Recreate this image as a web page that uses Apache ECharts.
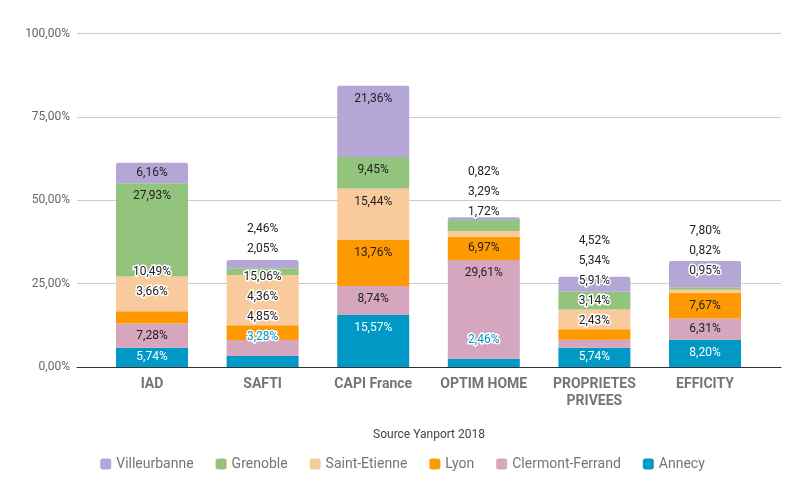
<!DOCTYPE html>
<html>
<head>
<meta charset="utf-8">
<script src="https://cdn.jsdelivr.net/npm/echarts@6/dist/echarts.min.js"></script>
<style>
html,body{margin:0;padding:0;background:#fff;}
#main{width:805px;height:498px;}
</style>
</head>
<body>
<div id="main"></div>
<script>
// ---- data ----
const categories = ['IAD', 'SAFTI', 'CAPI France', 'OPTIM HOME', 'PROPRIETES\nPRIVEES', 'EFFICITY'];
const annecy       = [5.74, 3.28, 15.57, 2.46, 5.74, 8.20];
const clermont     = [7.28, 4.85, 8.74, 29.61, 2.43, 6.31];
const lyon         = [3.66, 4.36, 13.76, 6.97, 3.14, 7.67];
const saintEtienne = [10.49, 15.06, 15.44, 1.72, 5.91, 0.95];
const grenoble     = [27.93, 2.05, 9.45, 3.29, 5.34, 0.82];
const villeurbanne = [6.16, 2.46, 21.36, 0.82, 4.52, 7.80];
const yTicks = [0, 25, 50, 75, 100];
const sourceText = 'Source Yanport 2018';

// stacking order bottom -> top
const seriesList = [
  {name: 'Annecy', values: annecy, color: '#0099c6'},
  {name: 'Clermont-Ferrand', values: clermont, color: '#d5a6bd'},
  {name: 'Lyon', values: lyon, color: '#ff9900'},
  {name: 'Saint-Etienne', values: saintEtienne, color: '#f9cb9c'},
  {name: 'Grenoble', values: grenoble, color: '#93c47d'},
  {name: 'Villeurbanne', values: villeurbanne, color: '#b4a7d6'}
];
const legendOrder = ['Villeurbanne', 'Grenoble', 'Saint-Etienne', 'Lyon', 'Clermont-Ferrand', 'Annecy'];

const fmt = v => v.toFixed(2).replace('.', ',') + '%';
const FONT = 'Roboto, "Noto Sans", sans-serif';

const chart = echarts.init(document.getElementById('main'), null, {renderer: 'canvas'});

const option = {
  animation: false,
  textStyle: {fontFamily: FONT},
  grid: [
    {left: 77, right: 24, top: 33.5, bottom: 131},
    {left: 96.7, right: 44.7, top: 33.5, bottom: 131}
  ],
  legend: {
    data: legendOrder,
    top: 452,
    left: 'center',
    itemWidth: 11,
    itemHeight: 11,
    itemGap: 22,
    icon: 'roundRect',
    textStyle: {color: '#757575', fontSize: 14, fontFamily: FONT}
  },
  xAxis: [
    {
      gridIndex: 0, type: 'category', data: [''],
      axisLine: {show: true, lineStyle: {color: '#333', width: 1}},
      axisTick: {show: false}, axisLabel: {show: false},
      name: sourceText, nameLocation: 'middle', nameGap: 62,
      nameTextStyle: {color: '#444', fontSize: 12, fontFamily: FONT}
    },
    {
      gridIndex: 1, type: 'category', data: categories,
      axisLine: {show: false}, axisTick: {show: false},
      axisLabel: {color: '#757575', fontSize: 14, fontWeight: 'bold', margin: 9, lineHeight: 17, interval: 0, fontFamily: FONT}
    }
  ],
  yAxis: [
    {
      gridIndex: 0, type: 'value', min: yTicks[0], max: yTicks[yTicks.length - 1], interval: 25,
      axisLine: {show: false}, axisTick: {show: false},
      axisLabel: {color: '#666', fontSize: 12, margin: 7, formatter: fmt, fontFamily: FONT},
      splitLine: {lineStyle: {color: '#cccccc', width: 1}}
    },
    {
      gridIndex: 1, type: 'value', min: yTicks[0], max: yTicks[yTicks.length - 1], interval: 25,
      show: false, splitLine: {show: false}
    }
  ],
  series: seriesList.map((s, si) => ({
    name: s.name,
    type: 'bar',
    stack: 'total',
    xAxisIndex: 1,
    yAxisIndex: 1,
    barWidth: 72,
    itemStyle: {color: s.color, borderRadius: si === seriesList.length - 1 ? [2, 2, 0, 0] : 0},
    label: {show: true, position: 'inside', fontSize: 12, color: '#222', formatter: p => fmt(p.value), fontFamily: FONT},
    data: s.values.slice()
  }))
};
chart.setOption(option);

// Label placement: inside top of each segment, pushed upward when they do not fit or collide
function layoutLabels() {
  const upd = seriesList.map(() => ({data: []}));
  for (let i = 0; i < categories.length; i++) {
    let cum = 0, prev = Infinity;
    seriesList.forEach((s, si) => {
      const v = s.values[i];
      const yb = chart.convertToPixel({gridIndex: 1}, [i, cum])[1];
      cum += v;
      const yt = chart.convertToPixel({gridIndex: 1}, [i, cum])[1];
      const h = yb - yt;
      const mid = (yb + yt) / 2;
      const fits = h >= 16;
      const desired = fits ? Math.min(yt + 13, mid) : yt - 19;
      const c = Math.min(desired, prev - 20);
      prev = c;
      const outside = !fits || c < desired - 0.5;
      let color = '#222';
      if (si === 0) color = outside ? s.color : '#ffffff';
      upd[si].data[i] = {
        value: v,
        label: {
          offset: [0, c - mid],
          color: color,
          textBorderColor: '#ffffff',
          textBorderWidth: outside ? 3 : 0
        }
      };
    });
  }
  chart.setOption({series: upd});
}
layoutLabels();
</script>
</body>
</html>
